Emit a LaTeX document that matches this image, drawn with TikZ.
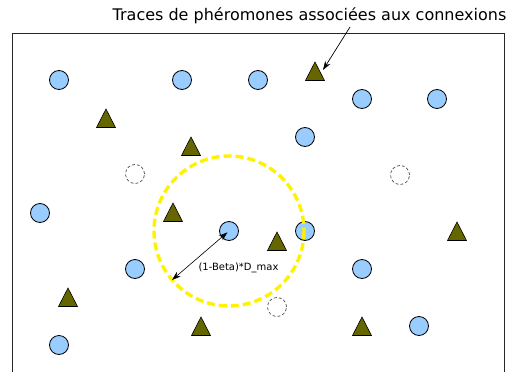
\documentclass[tikz,border=0pt]{standalone}
\usepackage{fontspec}
\setmainfont{DejaVu Sans}
\usetikzlibrary{arrows.meta}
\definecolor{nodeblue}{HTML}{99CCFF}
\definecolor{traceolive}{HTML}{666600}
\begin{document}
\begin{tikzpicture}[x=1pt,y=-1pt,
		station/.style={circle, draw=black, fill=nodeblue, line width=0.8pt, minimum size=19pt, inner sep=0pt},
		ghost/.style={circle, draw=black!80, dash pattern=on 3pt off 2pt, line width=0.6pt, minimum size=19pt, inner sep=0pt},
		trace/.style={draw=black, fill=traceolive, line width=0.6pt},
		zone/.style={draw=yellow, line width=3.4pt, dash pattern=on 8pt off 4pt},
		pointer/.style={-{Stealth[length=9pt,width=6pt]}, line width=0.7pt}]
	\useasboundingbox (0,0) rectangle (509,372);
	\draw[line width=0.9pt, black!85] (12,372) -- (12,33) -- (504,33) -- (504,372);
	% noeuds
	\foreach \x/\y [count=\i] in {59/80,182/80,258/80,362/99,437/99,305/137,40/213,229/231,305/231,135/269,362/269,419/326,59/345} { \node[station] (s\i) at (\x,\y) {}; }
	\foreach \x/\y [count=\i] in {135/174,400/175,277/307} { \node[ghost] (g\i) at (\x,\y) {}; }
	% traces (sommet du triangle)
	\foreach \x/\y in {315/62,106/109,191/137,173/203,277/232,457/222,68/288,201/317,362/317} { \filldraw[trace] (\x,\y) -- ++(9.5,18.5) -- ++(-19,0) -- cycle; }
	\draw[zone] (s8) circle (75);
	\coordinate (rim) at (172,280);
	\draw[{Stealth[length=9pt,width=6pt]}-{Stealth[length=9pt,width=6pt]}, line width=0.6pt, shorten >=2pt] (rim) -- (s8.center);
	\node[anchor=base, font=\fontsize{10}{12}\selectfont] (dmax) at (238.5,270) {(1-Beta)*D\_max};
	\node[anchor=base, font=\fontsize{16}{19}\selectfont] (traces) at (309.5,20) {Traces de phéromones associées aux connexions};
	\coordinate (lead) at (350,27);
	\coordinate (tip) at (323,70);
	\draw[pointer] (lead) -- (tip);
\end{tikzpicture}
\end{document}
